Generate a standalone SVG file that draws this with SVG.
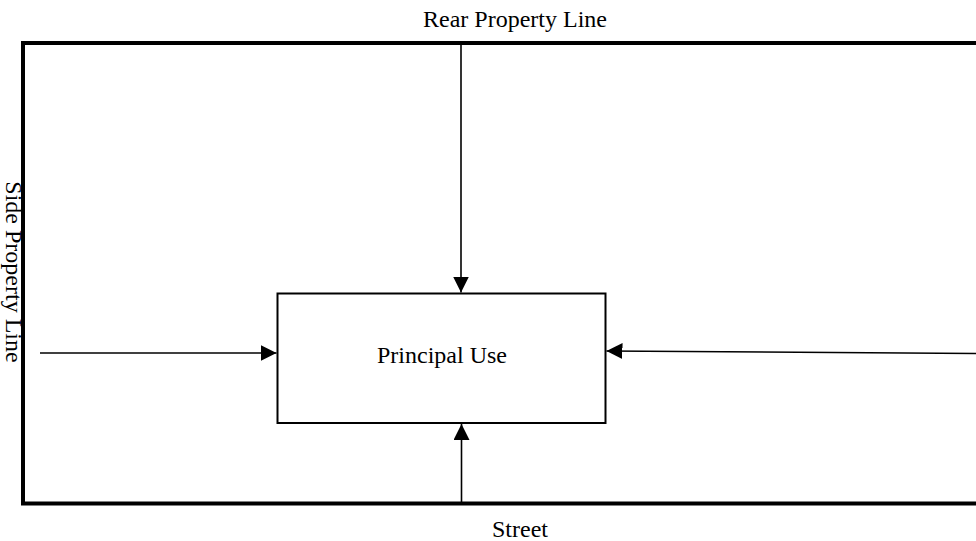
<svg xmlns="http://www.w3.org/2000/svg" width="976" height="541" viewBox="0 0 976 541">
<defs>
<style>
text{font-family:"Liberation Serif","Times New Roman",serif;font-size:24px;fill:#000}
.frame{fill:none;stroke:#000;stroke-width:4}
.box{fill:#fff;stroke:#000;stroke-width:2}
.conn{fill:none;stroke:#000;stroke-width:1.6}
</style>
<marker id="ah" markerUnits="userSpaceOnUse" markerWidth="16" markerHeight="16" viewBox="0 0 16 16" refX="16" refY="8" orient="auto">
<path d="M0,0 L16,8 L0,16 Z" fill="#000"/>
</marker>
</defs>
<g id="lot">
<path class="frame" d="M980,43 H23 V503.5 H980"/>
<text x="515" y="27" text-anchor="middle">Rear Property Line</text>
<text x="520" y="537" text-anchor="middle">Street</text>
<text transform="translate(6,272) rotate(90)" text-anchor="middle">Side Property Line</text>
</g>
<g id="principal-use">
<rect class="box" x="277.5" y="293.5" width="328" height="129.5"/>
<text x="442" y="363" text-anchor="middle">Principal Use</text>
</g>
<g id="connectors">
<line class="conn" x1="461" y1="43" x2="461" y2="292.5" marker-end="url(#ah)"/>
<line class="conn" x1="461.5" y1="503" x2="461.5" y2="424" marker-end="url(#ah)"/>
<line class="conn" x1="40" y1="353" x2="276.5" y2="353" marker-end="url(#ah)"/>
<line class="conn" x1="976" y1="353.5" x2="606.5" y2="351" marker-end="url(#ah)"/>
</g>
</svg>
